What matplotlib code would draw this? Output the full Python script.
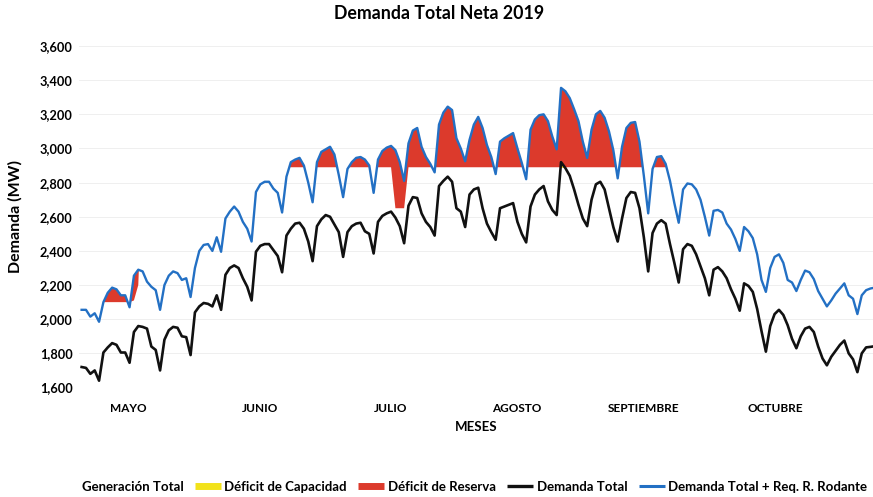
import numpy as np
import matplotlib
matplotlib.use("Agg")
import matplotlib.pyplot as plt
from matplotlib.patches import Patch
from matplotlib.lines import Line2D

# Demanda diaria, 1 de mayo al 31 de octubre de 2019 (MW)
demanda_total = [
    1720, 1715, 1680, 1700, 1640,
    1805, 1835, 1860, 1850, 1805, 1805, 1745,
    1925, 1960, 1955, 1945, 1840, 1820, 1700,
    1880, 1935, 1955, 1950, 1900, 1895, 1790,
    2040, 2075, 2095, 2090, 2075, 2140, 2055,
    2260, 2300, 2315, 2300, 2240, 2190, 2110,
    2395, 2430, 2440, 2440, 2405, 2370, 2275,
    2490, 2530, 2560, 2565, 2530, 2455, 2340,
    2545, 2585, 2610, 2600, 2555, 2510, 2365,
    2510, 2545, 2560, 2565, 2515, 2500, 2385,
    2570, 2605, 2620, 2630, 2595, 2545, 2445,
    2665, 2715, 2710, 2620, 2570, 2540, 2490,
    2780, 2810, 2835, 2805, 2650, 2630, 2540,
    2730, 2760, 2770, 2650, 2560, 2510, 2465,
    2650, 2660, 2670, 2680, 2570, 2500, 2450,
    2660, 2730, 2760, 2780, 2690, 2640, 2610,
    2920, 2885, 2840, 2760, 2670, 2590, 2545,
    2700, 2790, 2805, 2760, 2650, 2540, 2455,
    2590, 2710, 2745, 2740, 2650, 2480, 2280,
    2505, 2560, 2580, 2560, 2440, 2330, 2215,
    2410, 2440, 2430, 2380, 2310, 2240, 2140,
    2290, 2305, 2280, 2240, 2175, 2120, 2050,
    2210, 2195, 2160, 2060, 1930, 1810, 1960,
    2030, 2055, 2025, 1965, 1885, 1830, 1900,
    1945, 1955, 1925, 1840, 1770, 1730, 1780,
    1815, 1850, 1875, 1800, 1765, 1690, 1800,
    1835, 1838, 1842, 1845,
]

demanda_reserva = [
    2055, 2055, 2015, 2035, 1985,
    2100, 2155, 2185, 2175, 2140, 2140, 2070,
    2255, 2290, 2280, 2220, 2190, 2170, 2055,
    2200, 2255, 2280, 2270, 2230, 2240, 2130,
    2300, 2400, 2435, 2440, 2400, 2480, 2395,
    2590, 2630, 2660, 2630, 2570, 2530, 2455,
    2745, 2790, 2805, 2805, 2765, 2740, 2625,
    2835, 2920, 2935, 2945, 2900, 2800, 2685,
    2920, 2980, 2995, 3010, 2965, 2845, 2715,
    2880, 2920, 2945, 2950, 2935, 2900, 2740,
    2935, 2985, 3005, 3015, 2990, 2920, 2810,
    3030, 3105, 3120, 3010, 2950, 2910, 2860,
    3140, 3210, 3245, 3225, 3060, 3000, 2925,
    3050, 3140, 3185, 3120, 3020, 2950, 2850,
    3040, 3060, 3075, 3090, 3000, 2915, 2820,
    3110, 3170, 3195, 3200, 3160, 3070, 2995,
    3355, 3335, 3295, 3230, 3160, 3040, 2945,
    3110, 3200, 3220, 3180, 3100, 2990, 2825,
    3010, 3120, 3150, 3155, 3040, 2840, 2620,
    2880, 2950, 2955, 2910, 2810, 2680, 2565,
    2760, 2795, 2790, 2760, 2700, 2600, 2490,
    2635, 2640, 2625, 2560, 2525, 2470, 2400,
    2540, 2515, 2475, 2380, 2230, 2160, 2300,
    2365, 2380, 2330, 2230, 2215, 2165, 2230,
    2285, 2275, 2235, 2165, 2120, 2075, 2110,
    2150, 2180, 2210, 2140, 2120, 2030, 2140,
    2170, 2180, 2185, 2190,
]

# Generacion total disponible: tramos (numero de dias, MW)
generacion_dias = [12, 1, 1, 58, 3, 109]
generacion_mw = [2100, 2110, 2200, 2890, 2650, 2890]

meses = ["MAYO", "JUNIO", "JULIO", "AGOSTO", "SEPTIEMBRE", "OCTUBRE"]
meses_pos = [10.6, 41.0, 70.8, 99.9, 128.9, 159.2]

demanda_total = np.array(demanda_total, dtype=float)
demanda_reserva = np.array(demanda_reserva, dtype=float)
generacion = np.repeat(generacion_mw, generacion_dias).astype(float)
dias = np.arange(len(demanda_total))

plt.rcParams['font.family'] = ['Lato', 'DejaVu Sans']
plt.rcParams['font.weight'] = 'bold'

AZUL = '#2370c4'
ROJO = '#dc3a2c'
AMARILLO = '#f2e21a'

fig = plt.figure(figsize=(8.73, 4.97), dpi=100)
ax = fig.add_axes([0.0910, 0.2203, 0.9091, 0.6871])

ax.fill_between(dias, generacion, demanda_reserva, where=demanda_reserva > generacion,
                interpolate=True, color=ROJO, linewidth=0, zorder=2)
ax.fill_between(dias, generacion, demanda_total, where=demanda_total > generacion,
                interpolate=True, color=AMARILLO, linewidth=0, zorder=2)
ax.plot(dias, demanda_reserva, color=AZUL, lw=1.7, zorder=3)
ax.plot(dias, demanda_total, color='#111111', lw=1.9, zorder=3)

ax.set_xlim(-0.5, 181.6)
ax.set_ylim(1600, 3600)
ax.set_yticks(np.arange(1600, 3601, 200))
ax.set_yticklabels([f"{v:,}" for v in range(1600, 3601, 200)], fontsize=9.2, fontweight='bold')
ax.set_xticks(meses_pos)
ax.set_xticklabels(meses, fontsize=8.5, fontweight='bold')
ax.tick_params(axis='y', length=0, pad=5)
ax.tick_params(axis='x', length=0, pad=11)
for s in ax.spines.values():
    s.set_visible(False)
ax.grid(axis='y', color='#ececec', lw=0.6, zorder=0)

ax.set_xlabel("MESES", fontsize=9.5, fontweight='bold', labelpad=5)
fig.text(15 / 873, 0.564, "Demanda (MW)", rotation=90, ha='center', va='center',
         fontsize=11.5, fontweight='bold')
fig.text(0.503, 0.972, "Demanda Total Neta 2019", ha='center', va='center',
         fontsize=12.8, fontweight='bold')

handles = [
    Patch(facecolor='none', edgecolor='none'),
    Line2D([], [], color=AMARILLO, lw=5, solid_capstyle='butt'),
    Line2D([], [], color=ROJO, lw=5, solid_capstyle='butt'),
    Line2D([], [], color='#111111', lw=2.4, solid_capstyle='butt'),
    Line2D([], [], color=AZUL, lw=2.2, solid_capstyle='butt'),
]
labels = ["Generación Total", "Déficit de Capacidad", "Déficit de Reserva",
          "Demanda Total", "Demanda Total + Req. R. Rodante"]
fig.legend(handles, labels, loc='center left', bbox_to_anchor=(0.046, 0.02), ncol=5,
           frameon=False, prop={'size': 9.5, 'weight': 'bold'}, handlelength=2.0,
           handletextpad=0.25, columnspacing=0.85)

fig.savefig("out.png", dpi=100)
